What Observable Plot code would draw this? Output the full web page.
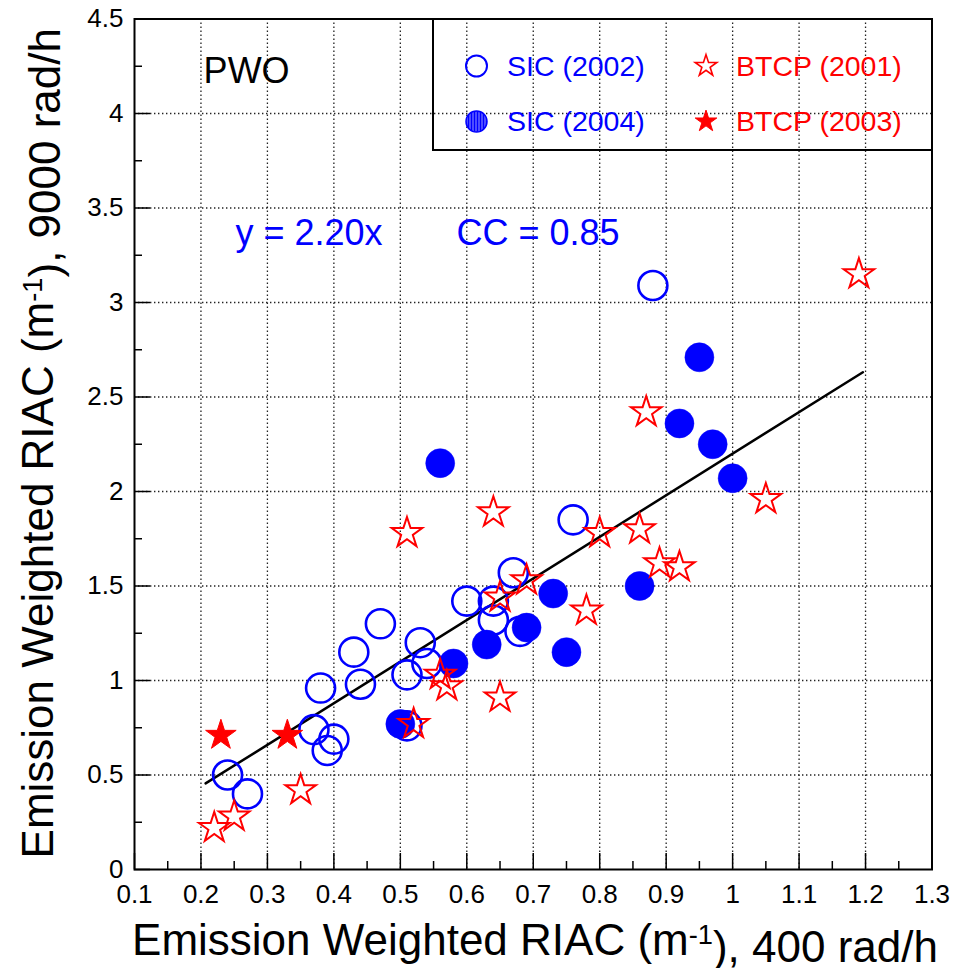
<!DOCTYPE html>
<html><head><meta charset="utf-8">
<script src="https://cdn.jsdelivr.net/npm/d3@7"></script>
<script src="https://cdn.jsdelivr.net/npm/@observablehq/plot@0.6"></script>
<style>body{margin:0;background:#fff} svg{display:block}</style>
</head><body><div id="chart"></div>
<script>
// ---- data ----
const sic2002X = [0.24, 0.27, 0.37, 0.38, 0.39, 0.40, 0.43, 0.44, 0.47, 0.51, 0.51, 0.53, 0.54, 0.60, 0.64, 0.64, 0.67, 0.68, 0.76, 0.88];
const sic2002Y = [0.50, 0.40, 0.74, 0.96, 0.63, 0.69, 1.15, 0.98, 1.30, 1.03, 0.76, 1.20, 1.09, 1.42, 1.42, 1.32, 1.57, 1.26, 1.85, 3.09];
const sic2004X = [0.50, 0.56, 0.58, 0.63, 0.69, 0.73, 0.75, 0.86, 0.92, 0.95, 0.97, 1.00];
const sic2004Y = [0.77, 2.15, 1.09, 1.19, 1.28, 1.46, 1.15, 1.50, 2.36, 2.71, 2.25, 2.07];
const btcp2001X = [0.22, 0.25, 0.35, 0.51, 0.52, 0.56, 0.57, 0.64, 0.65, 0.65, 0.69, 0.78, 0.80, 0.86, 0.87, 0.89, 0.92, 1.05, 1.19];
const btcp2001Y = [0.22, 0.28, 0.42, 1.78, 0.77, 1.03, 0.97, 1.89, 1.44, 0.91, 1.53, 1.37, 1.78, 1.80, 2.42, 1.62, 1.60, 1.96, 3.15];
const btcp2003X = [0.23, 0.33];
const btcp2003Y = [0.71, 0.71];
const fitSlope = 2.20;
const fitRangeX = [0.207, 1.196];

const xTicks = [0.1, 0.2, 0.3, 0.4, 0.5, 0.6, 0.7, 0.8, 0.9, 1.0, 1.1, 1.2, 1.3];
const xMinorTicks = [0.15, 0.25, 0.35, 0.45, 0.55, 0.65, 0.75, 0.85, 0.95, 1.05, 1.15, 1.25];
const yTicks = [0, 0.5, 1, 1.5, 2, 2.5, 3, 3.5, 4, 4.5];
const yMinorTicks = [0.25, 0.75, 1.25, 1.75, 2.25, 2.75, 3.25, 3.75, 4.25];
const xGrid = [0.2, 0.3, 0.4, 0.5, 0.6, 0.7, 0.8, 0.9, 1.0, 1.1, 1.2];
const yGrid = [0.5, 1, 1.5, 2, 2.5, 3, 3.5, 4];

const annotations = [
  {text: "PWO", x: 0.204, y: 4.16, color: "black"},
  {text: "y = 2.20x", x: 0.252, y: 3.305, color: "#0000ff"},
  {text: "CC = 0.85", x: 0.5845, y: 3.305, color: "#0000ff"}
];
const legendItems = [
  {label: "SIC (2002)", kind: "openCircle", color: "#0000ff"},
  {label: "BTCP (2001)", kind: "openStar", color: "#ff0000"},
  {label: "SIC (2004)", kind: "filledCircle", color: "#0000ff"},
  {label: "BTCP (2003)", kind: "filledStar", color: "#ff0000"}
];
const xTitle = ["Emission Weighted RIAC (m", "-1", "), 400 rad/h"];
const yTitle = ["Emission Weighted RIAC (m", "-1", "), 9000 rad/h"];

// ---- build ----
const toPts = (xs, ys) => xs.map((x, i) => ({x, y: ys[i]}));
const sic2002 = toPts(sic2002X, sic2002Y);
const sic2004 = toPts(sic2004X, sic2004Y);
const btcp2001 = toPts(btcp2001X, btcp2001Y);
const btcp2003 = toPts(btcp2003X, btcp2003Y);
const fit = fitRangeX.map(x => ({x, y: fitSlope * x}));

const W = 955, H = 968;
const mL = 134, mR = 23.5, mT = 18.5, mB = 99;
const fW = W - mL - mR, fH = H - mT - mB;
const fmt = d => String(+d.toFixed(2));
const FONT = "'Liberation Sans', Arial, Helvetica, sans-serif";

const plot = Plot.plot({
  width: W, height: H,
  marginLeft: mL, marginRight: mR, marginTop: mT, marginBottom: mB,
  x: {domain: [0.1, 1.3]},
  y: {domain: [0, 4.5]},
  style: {fontFamily: FONT, fontSize: "26px", background: "white", color: "black"},
  marks: [
    Plot.ruleX(xGrid, {stroke: "#222", strokeWidth: 1.3, strokeDasharray: "1.4,2.6"}),
    Plot.ruleY(yGrid, {stroke: "#222", strokeWidth: 1.3, strokeDasharray: "1.4,2.6"}),
    Plot.ruleX(xTicks, {insetTop: fH - 16, stroke: "black", strokeWidth: 1.5}),
    Plot.ruleX(xMinorTicks, {insetTop: fH - 8, stroke: "black", strokeWidth: 1.5}),
    Plot.ruleY(yTicks, {insetRight: fW - 16, stroke: "black", strokeWidth: 1.5}),
    Plot.ruleY(yMinorTicks, {insetRight: fW - 8, stroke: "black", strokeWidth: 1.5}),
    Plot.axisX(xTicks, {tickSize: 0, tickPadding: 15, tickFormat: fmt, fontSize: 26, label: null}),
    Plot.axisY(yTicks, {tickSize: 0, tickPadding: 11, tickFormat: fmt, fontSize: 26, label: null}),
    Plot.line(fit, {x: "x", y: "y", stroke: "black", strokeWidth: 2.5}),
    Plot.dot(sic2002, {x: "x", y: "y", r: 14.5, stroke: "#0000ff", strokeWidth: 2.6, fill: "none"}),
    Plot.dot(sic2004, {x: "x", y: "y", r: 14.5, fill: "#0000ff", stroke: "#0000ff", strokeWidth: 0.5}),
    Plot.dot(btcp2001, {x: "x", y: "y", r: 9.6, symbol: "star", stroke: "#ff0000", strokeWidth: 2, fill: "none"}),
    Plot.dot(btcp2003, {x: "x", y: "y", r: 9.6, symbol: "star", fill: "#ff0000", stroke: "#ff0000", strokeWidth: 1}),
    Plot.text(annotations, {x: "x", y: "y", text: "text", fill: "color", fontSize: 36, textAnchor: "start", lineAnchor: "bottom"}),
    Plot.frame({stroke: "black", strokeWidth: 2})
  ]
});

const svg = d3.select(plot);

// hatched pattern for SIC (2004) legend marker
const defs = svg.append("defs");
const pat = defs.append("pattern").attr("id", "hatch").attr("patternUnits", "userSpaceOnUse")
  .attr("width", 3).attr("height", 3);
pat.append("rect").attr("width", 3).attr("height", 3).attr("fill", "#0000ff");
pat.append("rect").attr("x", 2).attr("width", 1).attr("height", 3).attr("fill", "#9a9aff");

// legend box (inside frame, top-right)
const lg = svg.append("g").attr("font-family", FONT).attr("text-anchor", "start");
const boxL = 433, boxT = mT, boxR = W - mR, boxB = 150;
lg.append("path").attr("d", `M${boxL},${boxT}V${boxB}H${boxR}`).attr("fill", "none").attr("stroke", "black").attr("stroke-width", 2);
const colX = [476.5, 706], textX = [507, 736], rowY = [66, 121.5];
const starPath = d3.symbol(d3.symbolStar, Math.PI * 6.8 * 6.8)();
legendItems.forEach((it, i) => {
  const c = i % 2, r = Math.floor(i / 2);
  const g = lg.append("g").attr("transform", `translate(${colX[c]},${rowY[r]})`);
  if (it.kind === "openCircle") g.append("circle").attr("r", 10.5).attr("fill", "none").attr("stroke", it.color).attr("stroke-width", 2);
  if (it.kind === "filledCircle") g.append("circle").attr("r", 10.5).attr("fill", "url(#hatch)").attr("stroke", it.color).attr("stroke-width", 1.5);
  if (it.kind === "openStar") g.append("path").attr("d", starPath).attr("fill", "none").attr("stroke", it.color).attr("stroke-width", 1.6);
  if (it.kind === "filledStar") g.append("path").attr("d", starPath).attr("fill", it.color).attr("stroke", it.color).attr("stroke-width", 1);
  lg.append("text").attr("x", textX[c]).attr("y", rowY[r] + 9.5).attr("font-size", 28.5).attr("fill", it.color).text(it.label);
});

// axis titles with superscript
function title(parts, attrs) {
  const t = svg.append("text").attr("font-family", FONT).attr("font-size", 44).attr("fill", "black").attr("text-anchor", "end");
  Object.entries(attrs).forEach(([k, v]) => t.attr(k, v));
  t.append("tspan").text(parts[0]);
  t.append("tspan").attr("dy", "-0.42em").attr("font-size", "0.62em").text(parts[1]);
  t.append("tspan").attr("dy", "0.42em").text(parts[2]);
  return t;
}
title(xTitle, {x: 938, y: 955});
title(yTitle, {transform: "translate(53,28) rotate(-90)"});

document.getElementById("chart").appendChild(plot);
</script>
</body></html>
